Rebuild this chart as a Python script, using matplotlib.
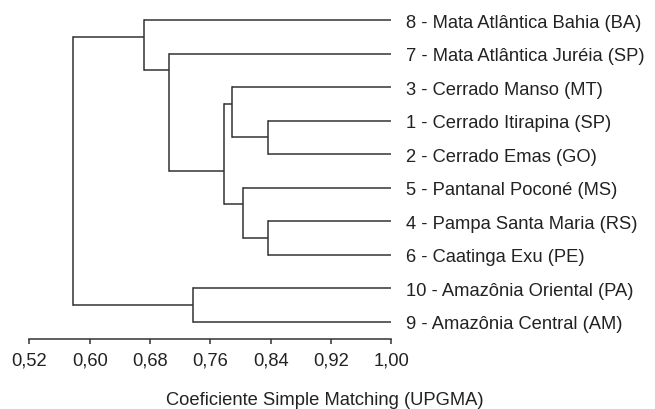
import matplotlib
matplotlib.use("Agg")
import matplotlib.pyplot as plt
from matplotlib.transforms import offset_copy

plt.rcParams['font.family'] = ['Liberation Sans', 'DejaVu Sans']

# Leaves, listed top to bottom as drawn
leaf_labels = [
    "8 - Mata Atlântica Bahia (BA)",
    "7 - Mata Atlântica Juréia (SP)",
    "3 - Cerrado Manso (MT)",
    "1 - Cerrado Itirapina (SP)",
    "2 - Cerrado Emas (GO)",
    "5 - Pantanal Poconé (MS)",
    "4 - Pampa Santa Maria (RS)",
    "6 - Caatinga Exu (PE)",
    "10 - Amazônia Oriental (PA)",
    "9 - Amazônia Central (AM)",
]
# Merges: (top child, bottom child, similarity); ids >= 10 refer to earlier merges
merge_a = [3, 6, 2, 5, 12, 1, 0, 8, 16]
merge_b = [4, 7, 10, 11, 13, 14, 15, 9, 17]
merge_sim = [0.836, 0.836, 0.789, 0.804, 0.778, 0.705, 0.6725, 0.737, 0.578]

x_ticks = [0.52, 0.60, 0.68, 0.76, 0.84, 0.92, 1.00]
x_ticklabels = ["0,52", "0,60", "0,68", "0,76", "0,84", "0,92", "1,00"]
x_label = "Coeficiente Simple Matching (UPGMA)"

line_col = "#333333"
text_col = "#222222"
lw = 1.1
fs = 13.2

fig = plt.figure(figsize=(6.55, 4.10), dpi=100)
ax = fig.add_axes([29.3 / 655, 1 - 339.5 / 410, (391.3 - 29.3) / 655, (339.5 - 4.24) / 410])

n = len(leaf_labels)
# node info: x, y, min leaf idx, max leaf idx
nodes = {}
for i in range(n):
    nodes[i] = (1.0, float(i), i, i)

for k, (a, b, s) in enumerate(zip(merge_a, merge_b, merge_sim)):
    xa, ya, mina, maxa = nodes[a]
    xb, yb, minb, maxb = nodes[b]
    ax.plot([xa, s], [ya, ya], color=line_col, lw=lw, solid_capstyle='butt')
    ax.plot([xb, s], [yb, yb], color=line_col, lw=lw, solid_capstyle='butt')
    ax.plot([s, s], [ya, yb], color=line_col, lw=lw, solid_capstyle='projecting')
    ynode = (maxa + minb) / 2.0
    nodes[n + k] = (s, ynode, min(mina, minb), max(maxa, maxb))

trans = offset_copy(ax.transData, fig=fig, x=15, y=0, units='dots')
for i, lab in enumerate(leaf_labels):
    ax.text(1.0, i, lab, transform=trans, ha='left', va='center_baseline',
            fontsize=fs, color=text_col, clip_on=False)

ax.set_xlim(0.52, 1.00)
ax.set_ylim(n - 0.5, -0.5)
ax.set_xticks(x_ticks)
ax.set_xticklabels(x_ticklabels, fontsize=fs, color=text_col)
ax.set_yticks([])
for sp in ['top', 'right', 'left']:
    ax.spines[sp].set_visible(False)
ax.spines['bottom'].set_color(line_col)
ax.spines['bottom'].set_linewidth(lw)
ax.tick_params(axis='x', direction='out', length=3.4, width=lw, color=line_col, pad=5.7)
ax.patch.set_alpha(0)

fig.text(325 / 655, 1 - 405.3 / 410, x_label, ha='center', va='baseline',
         fontsize=fs, color=text_col)

fig.savefig("out.png", dpi=100)
